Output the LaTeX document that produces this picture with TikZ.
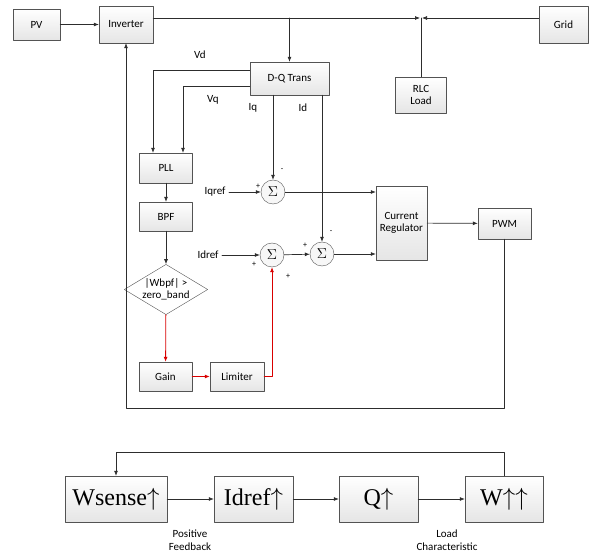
\documentclass[tikz,border=0pt]{standalone}
\usepackage{fontspec}
\setmainfont{Carlito}
\newfontfamily\boxserif{Liberation Serif}
\usetikzlibrary{shapes.geometric, arrows.meta}

\begin{document}
\begin{tikzpicture}[x=1pt, y=-1pt, >={Latex[length=5pt,width=4pt]}, line cap=round, line join=round, font=\fontsize{11}{12.5}\selectfont]

% --- Global TikZ Styles for Consistency ---
\tikzset{
    block/.style={
        draw=gray!65!black,
        top color=white,
        bottom color=gray!20,
        align=center,
        inner sep=1pt
    },
    sumnode/.style={
        circle,
        draw=gray!65!black,
        fill=gray!6,
        minimum size=24pt,
        inner sep=0pt,
        font=\Large
    },
    decision/.style={
        diamond,
        draw=gray!65!black,
        fill=white,
        aspect=1.66,
        minimum width=78pt,
        minimum height=47pt,
        inner sep=0pt,
        align=center
    },
    wire/.style={
        draw=gray!35!black,
        line width=0.7pt
    },
    redwire/.style={
        draw=red!85!black,
        line width=0.8pt
    },
    sign/.style={
        font=\fontsize{8}{8}\selectfont,
        inner sep=0pt
    },
    bigblock/.style={
        block,
        minimum height=46pt,
        font=\boxserif\fontsize{24}{26}\selectfont
    }
}

\useasboundingbox (0,0) rectangle (590,556);

% =========================================================================
% --- Upper diagram: power stage ---
% =========================================================================
\node[block, minimum width=47pt, minimum height=31pt] (pv) at (36.5,24.5) {PV};
\node[block, minimum width=54pt, minimum height=37pt] (inv) at (126,24.5) {Inverter};
\node[block, minimum width=49pt, minimum height=37pt] (grid) at (563.5,24.5) {Grid};
\node[block, minimum width=51pt, minimum height=36pt] (rlc) at (421,95) {RLC\\Load};
\node[block, minimum width=79pt, minimum height=33pt] (dq) at (289.5,78.5) {D-Q Trans};

\coordinate (bus) at (421,18);

\draw[wire, ->] (pv) -- (inv);
\draw[wire, ->] ([yshift=6.5pt]inv.east) -- ([xshift=-1pt]bus);
\draw[wire, ->] ([yshift=6.5pt]grid.west) -- ([xshift=1pt]bus);
\draw[wire] (rlc.north) -- (bus);
\draw[wire, ->] (dq.north |- bus) -- (dq.north);

% =========================================================================
% --- Control loop ---
% =========================================================================
\node[block, minimum width=53pt, minimum height=30pt] (pll) at (166,168) {PLL};
\node[block, minimum width=53pt, minimum height=29pt] (bpf) at (166,216.5) {BPF};
\node[decision] (cmp) at (166,289.5) {|Wbpf| >\\zero\_band};
\node[block, minimum width=53pt, minimum height=29pt] (gain) at (165.5,376.5) {Gain};
\node[block, minimum width=54pt, minimum height=29pt] (lim) at (237,376.5) {Limiter};

\node[sumnode] (s1) at (273,192) {$\Sigma$};
\node[sumnode] (s2) at (272,255) {$\Sigma$};
\node[sumnode] (s3) at (322,254) {$\Sigma$};

\node[block, minimum width=51pt, minimum height=74pt] (cr) at (401.5,223) {Current\\Regulator};
\node[block, minimum width=53pt, minimum height=31pt] (pwm) at (504.5,223.5) {PWM};

\node (iqref) at (215,192) {Iqref};
\node (idref) at (208,255) {Idref};

% --- Signal labels ---
\node (vd) at (200,55) {Vd};
\node (vq) at (213,100) {Vq};
\node (iq) at (253,108) {Iq};
\node (id) at (303,108) {Id};

% --- Signs at the summing points ---
\node[sign] (s1p) at (258,186) {+};
\node[sign] (s1m) at (282,170) {-};
\node[sign] (s2p) at (254,264) {+};
\node[sign] (s2q) at (288,276) {+};
\node[sign] (s3p) at (305,245) {+};
\node[sign] (s3m) at (331,232) {-};

% --- Connections ---
\draw[wire, ->] ([yshift=8.5pt]dq.west) -| ([xshift=-13pt]pll.north);
\draw[wire, ->] ([yshift=-7.5pt]dq.west) -| ([xshift=17pt]pll.north);
\draw[wire, ->] (dq.south -| s1.north) -- (s1.north);
\draw[wire, ->] (dq.south -| s3.north) -- (s3.north);

\draw[wire, ->] (pll) -- (bpf);
\draw[wire, ->] (bpf) -- (cmp);
\draw[redwire, ->] (cmp) -- (gain);
\draw[redwire, ->] (gain) -- (lim);
\draw[redwire, ->] (lim.east) -| (s2.south);

\draw[wire, ->] (iqref) -- (s1);
\draw[wire, ->] (idref) -- (s2);
\draw[wire, ->] (s2) -- (s3);
\draw[wire, ->] (s1.east) -- (cr.west |- s1.east);
\draw[wire, ->] (s3.east) -- (cr.west |- s3.east);
\draw[wire, ->] (cr) -- (pwm);

\coordinate (fb) at (126,408);
\draw[wire, ->] (pwm.south) |- (fb) -- (inv.south);

% =========================================================================
% --- Lower diagram: positive feedback chain ---
% =========================================================================
\node[bigblock, minimum width=102pt] (wsense) at (116,499) {Wsense$\uparrow$};
\node[bigblock, minimum width=79pt] (idup) at (253.5,499) {Idref$\uparrow$};
\node[bigblock, minimum width=79pt] (qup) at (378.5,499) {Q$\uparrow$};
\node[bigblock, minimum width=78pt] (wup) at (504,499) {W$\uparrow\uparrow$};

\draw[wire, ->] (wsense) -- (idup);
\draw[wire, ->] (idup) -- (qup);
\draw[wire, ->] (qup) -- (wup);
\draw[wire, ->] (wup.north) -- ++(0,-23) -| (wsense.north);

\node[align=center] (posfb) at (190,540) {Positive\\Feedback};
\node[align=center] (loadch) at (447,540) {Load\\Characteristic};

\end{tikzpicture}
\end{document}
